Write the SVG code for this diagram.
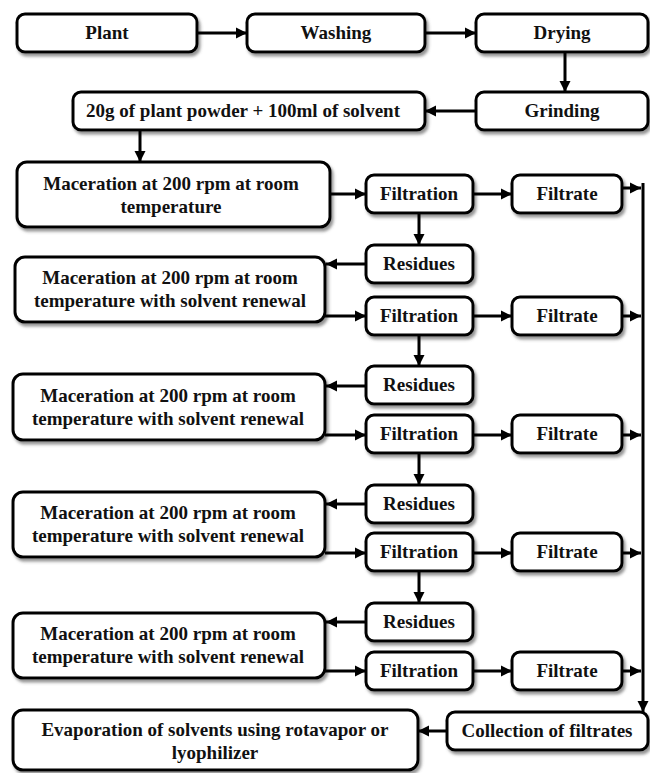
<svg xmlns="http://www.w3.org/2000/svg" width="650" height="773" viewBox="0 0 650 773">
<defs>
<filter id="sh" x="-10%" y="-20%" width="130%" height="150%">
<feDropShadow dx="2" dy="3" stdDeviation="1.5" flood-color="#666" flood-opacity="0.7"/>
</filter>
<marker id="ah" markerUnits="userSpaceOnUse" markerWidth="12" markerHeight="12" refX="11" refY="6" orient="auto">
<path d="M0,0.5 L11,6 L0,11.5 z" fill="#000"/>
</marker>
</defs>
<style>
.b{fill:#fff;stroke:#000;stroke-width:3;filter:url(#sh)}
.t{font-family:"Liberation Serif","Times New Roman",serif;font-weight:bold;font-size:19px;fill:#111;text-anchor:middle}
.c line,.c path{stroke:#000;stroke-width:3;fill:none}
.c .a{marker-end:url(#ah)}
</style>
<rect width="650" height="773" fill="#fff"/>
<g id="plant"><rect class="b" x="17" y="14" width="180" height="38" rx="8"/><text class="t" x="107" y="39">Plant</text></g>
<g id="washing"><rect class="b" x="247" y="14" width="178" height="38" rx="8"/><text class="t" x="336" y="39">Washing</text></g>
<g id="drying"><rect class="b" x="476" y="14" width="172" height="38" rx="8"/><text class="t" x="562" y="39">Drying</text></g>
<g id="grinding"><rect class="b" x="476" y="92" width="172" height="38" rx="8"/><text class="t" x="562" y="117">Grinding</text></g>
<g id="powder"><rect class="b" x="73" y="92" width="352" height="38" rx="8"/><text class="t" x="243" y="117">20g of plant powder + 100ml of solvent</text></g>
<g id="mac1"><rect class="b" x="17" y="162" width="313" height="65" rx="10"/><text class="t" x="171" y="190">Maceration at 200 rpm at room</text><text class="t" x="171" y="213">temperature</text></g>
<g id="filt1"><rect class="b" x="366" y="175" width="107" height="38" rx="8"/><text class="t" x="419" y="200">Filtration</text></g>
<g id="filtrate1"><rect class="b" x="512" y="175" width="110" height="38" rx="8"/><text class="t" x="567" y="200">Filtrate</text></g>
<g id="res1"><rect class="b" x="366" y="245" width="107" height="38" rx="8"/><text class="t" x="419" y="270">Residues</text></g>
<g id="mac2"><rect class="b" x="15" y="257" width="310" height="65" rx="10"/><text class="t" x="170" y="284">Maceration at 200 rpm at room</text><text class="t" x="170" y="307">temperature with solvent renewal</text></g>
<g id="filt2"><rect class="b" x="366" y="297" width="107" height="38" rx="8"/><text class="t" x="419" y="322">Filtration</text></g>
<g id="filtrate2"><rect class="b" x="512" y="297" width="110" height="38" rx="8"/><text class="t" x="567" y="322">Filtrate</text></g>
<g id="res2"><rect class="b" x="366" y="366" width="107" height="38" rx="8"/><text class="t" x="419" y="391">Residues</text></g>
<g id="mac3"><rect class="b" x="13" y="374" width="312" height="66" rx="10"/><text class="t" x="168" y="402">Maceration at 200 rpm at room</text><text class="t" x="168" y="425">temperature with solvent renewal</text></g>
<g id="filt3"><rect class="b" x="366" y="415" width="107" height="38" rx="8"/><text class="t" x="419" y="440">Filtration</text></g>
<g id="filtrate3"><rect class="b" x="512" y="415" width="110" height="38" rx="8"/><text class="t" x="567" y="440">Filtrate</text></g>
<g id="res3"><rect class="b" x="366" y="485" width="107" height="38" rx="8"/><text class="t" x="419" y="510">Residues</text></g>
<g id="mac4"><rect class="b" x="13" y="492" width="312" height="65" rx="10"/><text class="t" x="168" y="519">Maceration at 200 rpm at room</text><text class="t" x="168" y="542">temperature with solvent renewal</text></g>
<g id="filt4"><rect class="b" x="366" y="533" width="107" height="38" rx="8"/><text class="t" x="419" y="558">Filtration</text></g>
<g id="filtrate4"><rect class="b" x="512" y="533" width="110" height="38" rx="8"/><text class="t" x="567" y="558">Filtrate</text></g>
<g id="res4"><rect class="b" x="366" y="603" width="107" height="38" rx="8"/><text class="t" x="419" y="628">Residues</text></g>
<g id="mac5"><rect class="b" x="13" y="613" width="312" height="65" rx="10"/><text class="t" x="168" y="640">Maceration at 200 rpm at room</text><text class="t" x="168" y="663">temperature with solvent renewal</text></g>
<g id="filt5"><rect class="b" x="366" y="652" width="107" height="38" rx="8"/><text class="t" x="419" y="677">Filtration</text></g>
<g id="filtrate5"><rect class="b" x="512" y="652" width="110" height="38" rx="8"/><text class="t" x="567" y="677">Filtrate</text></g>
<g id="collection"><rect class="b" x="447" y="712" width="201" height="38" rx="8"/><text class="t" x="547" y="737">Collection of filtrates</text></g>
<g id="evap"><rect class="b" x="13" y="710" width="405" height="60" rx="10"/><text class="t" x="215" y="736">Evaporation of solvents using rotavapor or</text><text class="t" x="215" y="759">lyophilizer</text></g>
<g id="connectors" class="c">
<line class="a" x1="197" y1="33" x2="247" y2="33"/>
<line class="a" x1="425" y1="33" x2="476" y2="33"/>
<line class="a" x1="565" y1="52" x2="565" y2="92"/>
<line class="a" x1="476" y1="111" x2="425" y2="111"/>
<line class="a" x1="140" y1="130" x2="140" y2="162"/>
<line class="a" x1="330" y1="194" x2="366" y2="194"/>
<line class="a" x1="473" y1="194" x2="512" y2="194"/>
<line class="a" x1="622" y1="188" x2="641" y2="188"/>
<line class="a" x1="419" y1="213" x2="419" y2="245"/>
<line class="a" x1="366" y1="264" x2="326" y2="264"/>
<line class="a" x1="325" y1="316" x2="366" y2="316"/>
<line class="a" x1="473" y1="316" x2="512" y2="316"/>
<line class="a" x1="622" y1="316" x2="641" y2="316"/>
<line class="a" x1="419" y1="335" x2="419" y2="366"/>
<line class="a" x1="366" y1="386" x2="326" y2="386"/>
<line class="a" x1="325" y1="435" x2="366" y2="435"/>
<line class="a" x1="473" y1="435" x2="512" y2="435"/>
<line class="a" x1="622" y1="435" x2="641" y2="435"/>
<line class="a" x1="419" y1="453" x2="419" y2="485"/>
<line class="a" x1="366" y1="504" x2="326" y2="504"/>
<line class="a" x1="325" y1="553" x2="366" y2="553"/>
<line class="a" x1="473" y1="553" x2="512" y2="553"/>
<line class="a" x1="622" y1="553" x2="641" y2="553"/>
<line class="a" x1="419" y1="571" x2="419" y2="603"/>
<line class="a" x1="366" y1="622" x2="326" y2="622"/>
<line class="a" x1="325" y1="671" x2="366" y2="671"/>
<line class="a" x1="473" y1="671" x2="512" y2="671"/>
<line class="a" x1="622" y1="671" x2="641" y2="671"/>
<line class="a" x1="643" y1="183" x2="643" y2="712"/>
<line class="a" x1="447" y1="731" x2="418" y2="731"/>
</g>
</svg>
